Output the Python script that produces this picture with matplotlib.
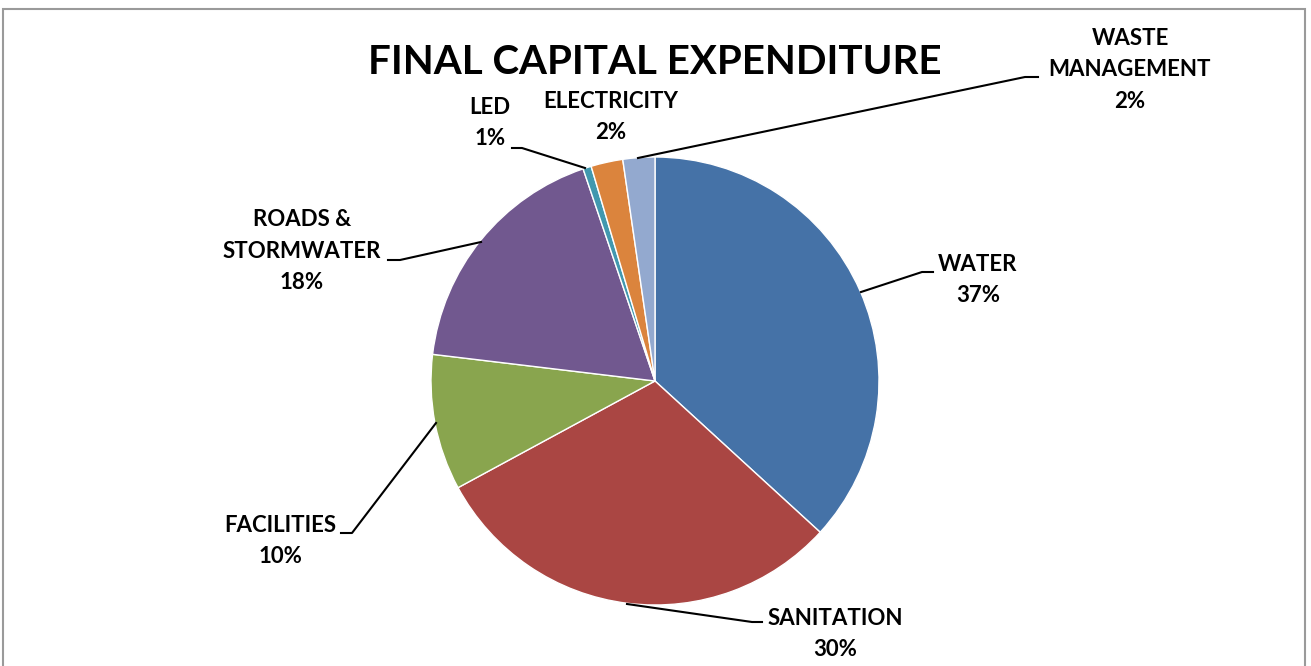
#
#  Pie chart of the final capital expenditure split,
#  drawn on a pixel sized axes so labels sit where they should.
#
import matplotlib
matplotlib.use("Agg")
import matplotlib.pyplot as plt
from matplotlib.patches import Rectangle

W, H = 1311, 666

categories = ["WATER", "SANITATION", "FACILITIES", "ROADS &\nSTORMWATER",
              "LED", "ELECTRICITY", "WASTE\nMANAGEMENT"]
shares = [36.8, 30.3, 9.8, 17.9, 0.6, 2.3, 2.3]
colors = ["#4572A7", "#AA4643", "#89A54E", "#71588F",
          "#4198AF", "#DB843D", "#93A9CF"]

# label centres (pixels, y from top) and leader lines
label_pos = [(978, 280), (835, 634), (280, 541), (302, 251),
             (490, 123), (611, 117), (1130, 70)]
leaders = [[(861, 292), (922, 272), (933, 272)],
           [(627, 604), (752, 622), (762, 622)],
           [(436, 423), (352, 533), (341, 533)],
           [(481, 242), (400, 260), (388, 260)],
           [(585, 168), (522, 148), (512, 148)],
           None,
           [(638, 158), (1025, 77), (1038, 77)]]

plt.rcParams['font.family'] = ['Lato', 'DejaVu Sans']

fig = plt.figure(figsize=(W / 100, H / 100), dpi=100)
ax = fig.add_axes([0, 0, 1, 1])

def py(y):
    return H - y

# outer chart frame (bottom is cut off in the original)
ax.add_patch(Rectangle((3, py(9) - 700), 1302, 700, fill=False,
                       edgecolor='#9a9a9a', lw=1.5))

ax.pie(shares, colors=colors, startangle=90, counterclock=False,
       center=(655, py(381)), radius=224, frame=True,
       wedgeprops=dict(edgecolor='white', linewidth=1))
ax.set_xlim(0, W)
ax.set_ylim(0, H)
ax.set_aspect('equal')
ax.axis('off')

for name, val, (lx, ly), line in zip(categories, shares, label_pos, leaders):
    ax.text(lx, py(ly), '%s\n%.0f%%' % (name, val), ha='center', va='center',
            fontsize=16, fontweight='bold', linespacing=1.6)
    if line:
        ax.plot([p[0] for p in line], [py(p[1]) for p in line], 'k-', lw=1.5)

ax.text(655, py(62), 'FINAL CAPITAL EXPENDITURE', ha='center', va='center',
        fontsize=29, fontweight='bold')

fig.savefig('out.png', dpi=100)
